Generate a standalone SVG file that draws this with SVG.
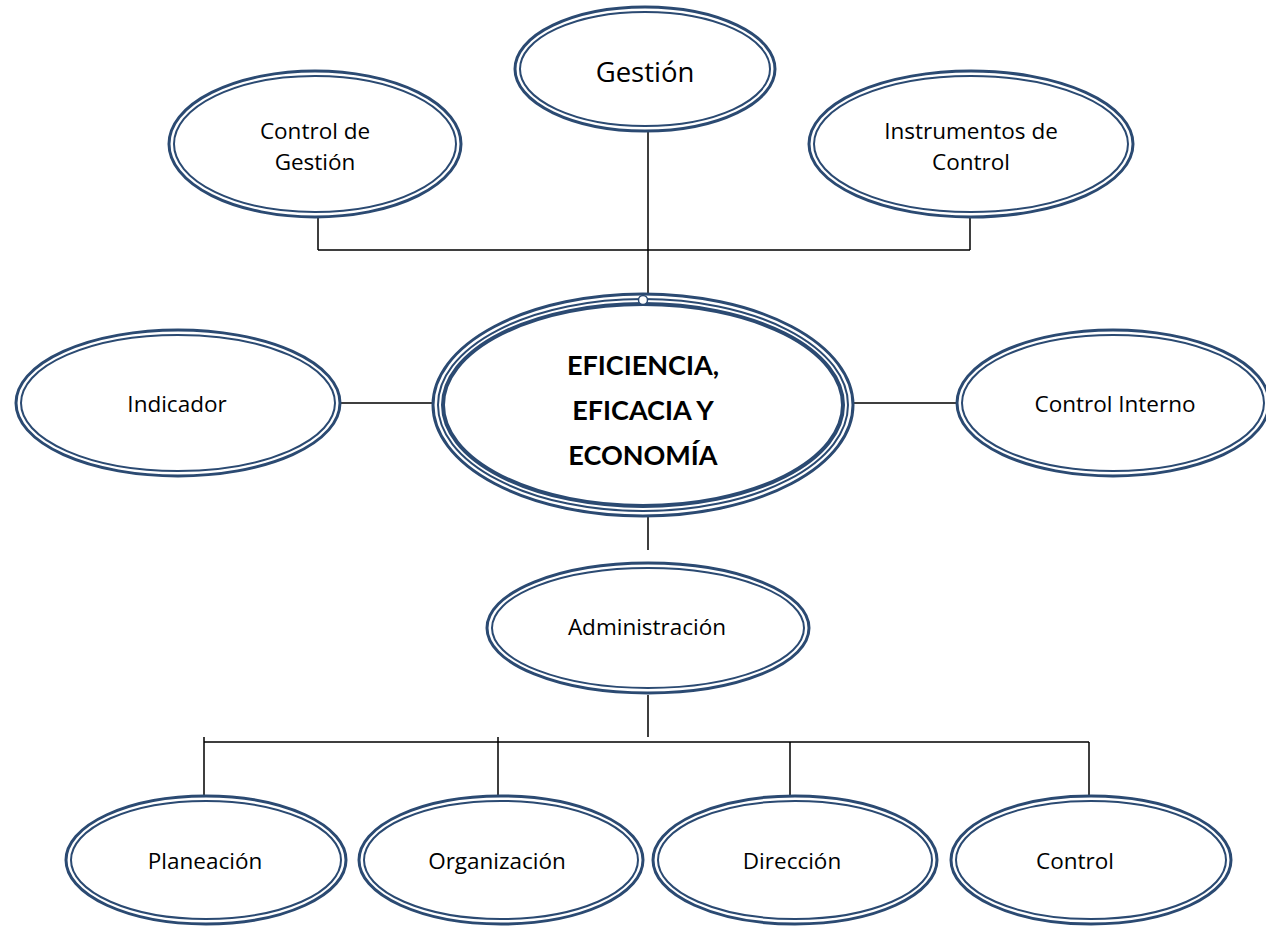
<svg xmlns="http://www.w3.org/2000/svg" width="1266" height="926" viewBox="0 0 1266 926">
<style>
.o{fill:none;stroke:#2b4a72;stroke-width:3}
.i{fill:none;stroke:#2b4a72;stroke-width:2}
.bg{fill:#fff}
.c{fill:none;stroke:#000;stroke-width:1.5}
text{font-family:"Open Sans","Liberation Sans",sans-serif;font-size:22.5px;fill:#000;text-anchor:middle}
.b{font-family:"Lato","Liberation Sans",sans-serif;font-size:27px;font-weight:bold}
</style>
<rect width="1266" height="926" fill="#fff"/>
<g id="connectors">
<path class="c" d="M648 131V300M318 250H970M318 218V250M970 218V250M333 403H440M852 403H962M648 517V550M648 695V737M204 742H1089M204 737V795M498 737V800M790 742V800M1089 742V800"/>
</g>
<g id="gestion">
<ellipse class="o bg" cx="645" cy="69" rx="130" ry="62"/><ellipse class="i" cx="645" cy="69" rx="125" ry="57"/>
<text x="645" y="82" style="font-size:27.5px">Gestión</text>
</g>
<g id="control-gestion">
<ellipse class="o bg" cx="315" cy="144" rx="146" ry="73"/><ellipse class="i" cx="315" cy="144" rx="141" ry="68"/>
<text x="315" y="139">Control de</text><text x="315" y="170">Gestión</text>
</g>
<g id="instrumentos">
<ellipse class="o bg" cx="971" cy="144" rx="162" ry="73"/><ellipse class="i" cx="971" cy="144" rx="157" ry="68"/>
<text x="971" y="139">Instrumentos de</text><text x="971" y="170">Control</text>
</g>
<g id="central">
<ellipse class="o bg" cx="643" cy="405" rx="210" ry="111"/>
<ellipse fill="none" stroke="#2b4a72" stroke-width="2" cx="643" cy="405" rx="205" ry="106"/>
<ellipse fill="none" stroke="#2b4a72" stroke-width="4" cx="643" cy="405" rx="200" ry="101"/>
<circle cx="643" cy="300" r="4.5" fill="#fff" stroke="#2b4a72" stroke-width="1.5"/>
<text class="b" x="643" y="375">EFICIENCIA,</text>
<text class="b" x="643" y="420">EFICACIA Y</text>
<text class="b" x="643" y="465">ECONOMÍA</text>
</g>
<g id="indicador">
<ellipse class="o bg" cx="178" cy="403" rx="162" ry="73"/><ellipse class="i" cx="178" cy="403" rx="157" ry="68"/>
<text x="177" y="412">Indicador</text>
</g>
<g id="control-interno">
<ellipse class="o bg" cx="1113" cy="403" rx="156" ry="73"/><ellipse class="i" cx="1113" cy="403" rx="151" ry="68"/>
<text x="1115" y="412">Control Interno</text>
</g>
<g id="administracion">
<ellipse class="o bg" cx="648" cy="628" rx="161" ry="65"/><ellipse class="i" cx="648" cy="628" rx="156" ry="60"/>
<text x="647" y="635">Administración</text>
</g>
<g id="planeacion">
<ellipse class="o bg" cx="206" cy="860" rx="140" ry="64"/><ellipse class="i" cx="206" cy="860" rx="135" ry="59"/>
<text x="205" y="869">Planeación</text>
</g>
<g id="organizacion">
<ellipse class="o bg" cx="501" cy="860" rx="142" ry="64"/><ellipse class="i" cx="501" cy="860" rx="137" ry="59"/>
<text x="497" y="869">Organización</text>
</g>
<g id="direccion">
<ellipse class="o bg" cx="795" cy="860" rx="142" ry="64"/><ellipse class="i" cx="795" cy="860" rx="137" ry="59"/>
<text x="792" y="869">Dirección</text>
</g>
<g id="control">
<ellipse class="o bg" cx="1091" cy="860" rx="140" ry="64"/><ellipse class="i" cx="1091" cy="860" rx="135" ry="59"/>
<text x="1075" y="869">Control</text>
</g>
</svg>
